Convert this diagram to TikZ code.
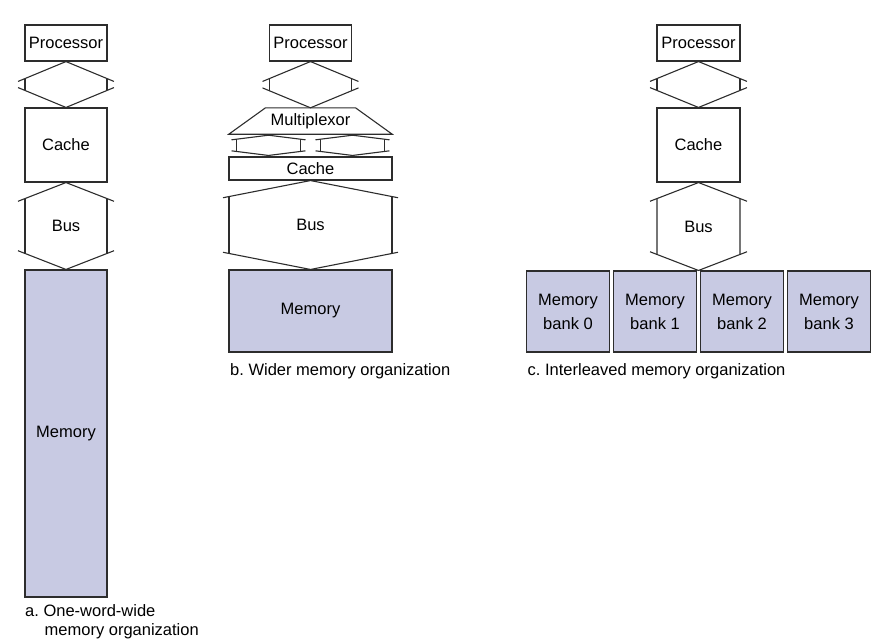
\documentclass[tikz,border=0pt]{standalone}
\usepackage{fontspec}
\setmainfont{Liberation Sans}
\usepackage{tikz}
\usetikzlibrary{calc}

\definecolor{memfill}{RGB}{200,202,227}
\definecolor{linegray}{RGB}{45,45,45}

\tikzset{
  unit/.style={draw=linegray, line width=1.1pt, inner sep=0pt},
  memunit/.style={unit, fill=memfill},
  buslin/.style={draw=linegray, line width=1.1pt},
  caption/.style={anchor=base west, inner sep=0pt}
}

% bus between two stacked units: top point, bottom point, half width, drop, overshoot
\newcommand{\buslink}[5]{%
  \draw[buslin] ($(#1)+({-(#3+#5)},{#4*(#3+#5)/#3})$) -- (#1) -- ($(#1)+({#3+#5},{#4*(#3+#5)/#3})$);
  \draw[buslin] ($(#2)+({-(#3+#5)},{-#4*(#3+#5)/#3})$) -- (#2) -- ($(#2)+({#3+#5},{-#4*(#3+#5)/#3})$);
  \draw[buslin] ($(#1)+(-#3,#4)$) -- ($(#2)+(-#3,-#4)$);
  \draw[buslin] ($(#1)+(#3,#4)$) -- ($(#2)+(#3,-#4)$);
}

\begin{document}
\begin{tikzpicture}[x=1pt,y=-1pt,font=\fontsize{16.5}{20}\selectfont]
\useasboundingbox (0,0) rectangle (895,641);

% a. One-word-wide
\node[unit, minimum width=82, minimum height=36] (proca) at (66,43) {Processor};
\node[unit, minimum width=82, minimum height=74] (cachea) at (66,145) {Cache};
\node[memunit, minimum width=82, minimum height=327] (mema) at (66,433.5) {Memory};
\buslink{proca.south}{cachea.north}{41}{17}{7}
\buslink{cachea.south}{mema.north}{41}{16}{7}
\node (busa) at ($(cachea.south)!0.5!(mema.north)$) {Bus};
\node[caption] (capa) at (25,616) {a.~One-word-wide};
\node[caption] (capa2) at (44.5,635) {memory organization};

% b. Wider
\node[unit, minimum width=82, minimum height=36] (procb) at (310.5,43) {Processor};
\node[inner sep=0pt, minimum width=163, minimum height=26] (mux) at (310.5,121) {Multiplexor};
\draw[buslin] (mux.south west) -- ($(mux.north)+(-45,0)$) -- ($(mux.north)+(45,0)$) -- (mux.south east) -- cycle;
\buslink{procb.south}{mux.north}{41}{17}{7}
\node[unit, minimum width=163, minimum height=23] (cacheb) at (310.5,168.5) {Cache};
\coordinate (muxl) at ($(mux.south)+(-42,1)$);
\coordinate (muxr) at ($(mux.south)+(42,1)$);
\coordinate (cachebl) at ($(cacheb.north)+(-42,-1)$);
\coordinate (cachebr) at ($(cacheb.north)+(42,-1)$);
\buslink{muxl}{cachebl}{32}{4}{5}
\buslink{muxr}{cachebr}{32}{4}{5}
\node[memunit, minimum width=163, minimum height=82] (memb) at (310.5,311) {Memory};
\buslink{cacheb.south}{memb.north}{81.5}{16}{6}
\node (busb) at ($(cacheb.south)!0.5!(memb.north)$) {Bus};
\node[caption] (capb) at (230,375) {b.~Wider memory organization};

% c. Interleaved
\node[unit, minimum width=83, minimum height=36] (procc) at (698.5,43) {Processor};
\node[unit, minimum width=83, minimum height=74] (cachec) at (698.5,145) {Cache};
\foreach \i/\xc in {0/568,1/655,2/742,3/829}
  \node[memunit, minimum width=83, minimum height=81, align=center,
        font=\fontsize{16.5}{24}\selectfont] (bank\i) at (\xc,311.5) {Memory\\bank \i};
\coordinate (bankjoin) at ($(bank1.north east)!0.5!(bank2.north west)$);
\buslink{procc.south}{cachec.north}{41.5}{17}{7}
\buslink{cachec.south}{bankjoin}{41.5}{16}{7}
\node (busc) at ($(cachec.south)!0.5!(bankjoin)$) {Bus};
\node[caption] (capc) at (527.5,375) {c.~Interleaved memory organization};
\end{tikzpicture}
\end{document}
